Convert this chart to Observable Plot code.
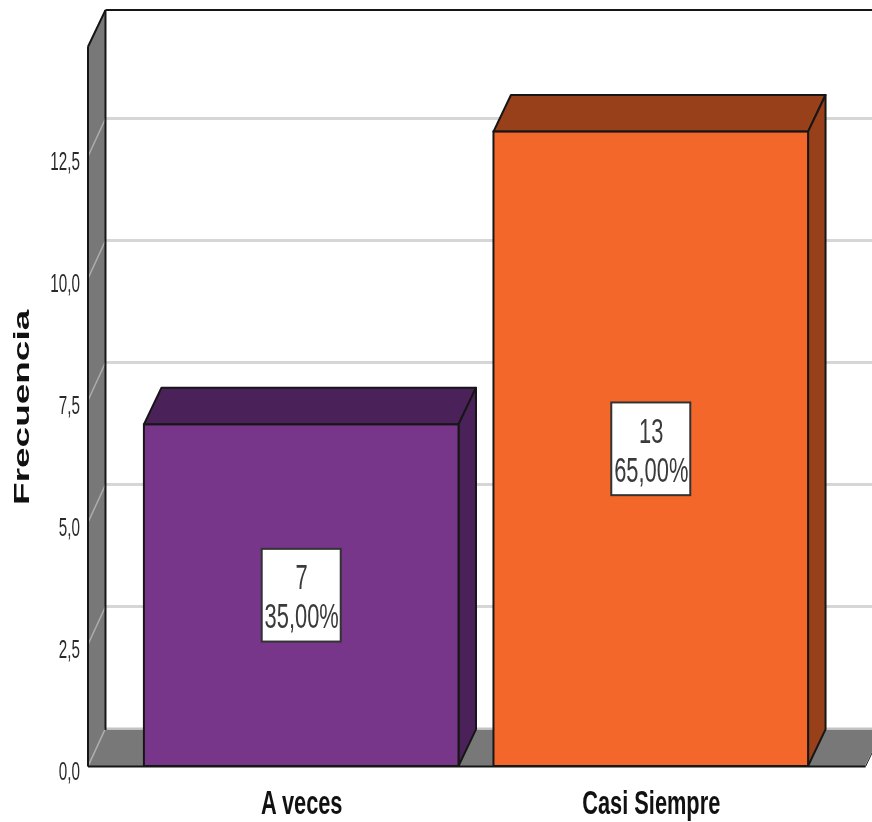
<!DOCTYPE html>
<html>
<head>
<meta charset="utf-8">
<script src="https://cdn.jsdelivr.net/npm/d3@7"></script>
<script src="https://cdn.jsdelivr.net/npm/@observablehq/plot@0.6"></script>
<style>
html,body{margin:0;padding:0;background:#fff;overflow:hidden}
svg{display:block;filter:blur(.45px)}
</style>
</head>
<body>
<div id="chart"></div>
<script>
const categories = ["A veces", "Casi Siempre"];
const counts = [7, 13];
const percents = ["35,00%", "65,00%"];
const yTicks = [0, 2.5, 5, 7.5, 10, 12.5];
const yTitle = "Frecuencia";
const fills = ["#78368a", "#f4672b"];
const shades = ["#4a2159", "#97401a"];

const font = "Liberation Sans, Arial, sans-serif";
const ink = "#161616", wall = "#787878", grid = "#d6d6d6";
const dx = 0.05, dy = 0.75, half = 0.45;
const xMin = -0.6114, xMax = 1.6329, xFloor = 1.613, yWallFront = 14.75;

const quad = (a1, a2, b1, b2, options) =>
  Plot.area([[a1, b1], [a2, b2]], {x1: d => d[0][0], y1: d => d[0][1], x2: d => d[1][0], y2: d => d[1][1], ...options});

const rows = categories.map((c, i) => ({c, i, n: counts[i], p: percents[i], fill: fills[i], shade: shades[i]}));
const seg = (x1, y1, x2, y2, stroke, strokeWidth) =>
  Plot.link([0], {x1: () => x1, y1: () => y1, x2: () => x2, y2: () => y2, stroke, strokeWidth});

const barFaces = rows.flatMap(r => {
  const L = r.i - half, R = r.i + half, v = r.n;
  return [
    quad([L, v], [R, v], [L + dx, v + dy], [R + dx, v + dy], {fill: r.shade, stroke: ink, strokeWidth: 2}),
    quad([R, 0], [R, v], [R + dx, dy], [R + dx, v + dy], {fill: r.shade, stroke: ink, strokeWidth: 2})
  ];
});

const plot = Plot.plot({
  width: 872,
  height: 822,
  marginLeft: 87.5,
  marginRight: 0,
  marginTop: 0,
  marginBottom: 56,
  x: {type: "linear", domain: [xMin, xMax]},
  y: {type: "linear", domain: [0, 15.697]},
  style: {background: "#fff"},
  marks: [
    // floor
    quad([xMin, 0], [xFloor, 0], [xMin + dx, dy], [xFloor + dx, dy], {fill: wall}),
    seg(xMin + dx, dy + 0.03, xMax, dy + 0.03, "#c4c4c4", 2),
    // left wall
    quad([xMin, 0], [xMin, yWallFront], [xMin + dx, dy], [xMin + dx, yWallFront + dy], {fill: wall}),
    // back gridlines
    Plot.ruleY(yTicks.slice(1), {y: d => d + dy + 0.03, x1: xMin + dx, x2: xMax, stroke: grid, strokeWidth: 3}),
    Plot.link(yTicks, {x1: xMin, y1: d => d, x2: xMin + dx, y2: d => d + dy + 0.03, stroke: "#adadad", strokeWidth: 1.5}),
    // frame lines
    seg(xMin, 0, xMin, yWallFront, ink, 2),
    seg(xMin, yWallFront, xMin + dx, yWallFront + dy, ink, 2),
    seg(xMin + dx, dy, xMin + dx, yWallFront + dy, ink, 2),
    seg(xMin + dx, yWallFront + dy, xMax, yWallFront + dy, ink, 2),
    seg(xMin, 0, xFloor, 0, ink, 2),
    seg(xFloor, 0, xFloor + dx, dy, ink, 1),
    // bars
    ...barFaces,
    Plot.rect(rows, {x1: d => d.i - half, x2: d => d.i + half, y1: 0, y2: d => d.n, fill: d => d.fill, stroke: ink, strokeWidth: 2}),
    // value boxes
    Plot.rect(rows, {x1: d => d.i - 0.113, x2: d => d.i + 0.113, y1: d => d.n / 2 - 0.95, y2: d => d.n / 2 + 0.95, fill: "#fff", stroke: "#333", strokeWidth: 2, inset: 0}),
    Plot.text(rows, {x: "i", y: d => d.n / 2, text: d => String(d.n), dy: -18, fontSize: 35, fontFamily: font, fill: "#3a3a3a", className: "squeeze-box"}),
    Plot.text(rows, {x: "i", y: d => d.n / 2, text: "p", dy: 21, fontSize: 35, fontFamily: font, fill: "#3a3a3a", className: "squeeze-box"}),
    // axes
    Plot.axisY(yTicks, {anchor: "left", tickSize: 0, tickPadding: 8, dy: 5, fontSize: 25, fontFamily: font, fill: "#2a2a2a", label: null, tickFormat: d => d.toFixed(1).replace(".", ","), className: "squeeze-tick"}),
    Plot.axisX(rows.map(r => r.i), {anchor: "bottom", tickSize: 0, tickPadding: 24, fontSize: 33, fontFamily: font, fontWeight: "bold", fill: "#111", label: null, tickFormat: i => categories[i], className: "squeeze-cat"}),
    Plot.text([yTitle], {frameAnchor: "left", y: () => 7.36, rotate: -90, textAnchor: "middle", dx: -66, fontSize: 22, fontFamily: font, fontWeight: "bold", fill: "#111", className: "stretch-title"})
  ]
});

document.getElementById("chart").appendChild(plot);

function fit(selector, factor) {
  plot.querySelectorAll(selector).forEach(t => {
    const w = t.getComputedTextLength();
    t.setAttribute("lengthAdjust", "spacingAndGlyphs");
    t.setAttribute("textLength", (w * factor).toFixed(1));
  });
}
fit('g[aria-label="y-axis tick label"] text', 0.61);
fit('g[aria-label="x-axis tick label"] text', 0.66);
fit('.squeeze-box text, text.squeeze-box', 0.625);
fit('.stretch-title text, text.stretch-title', 1.68);
</script>
</body>
</html>
